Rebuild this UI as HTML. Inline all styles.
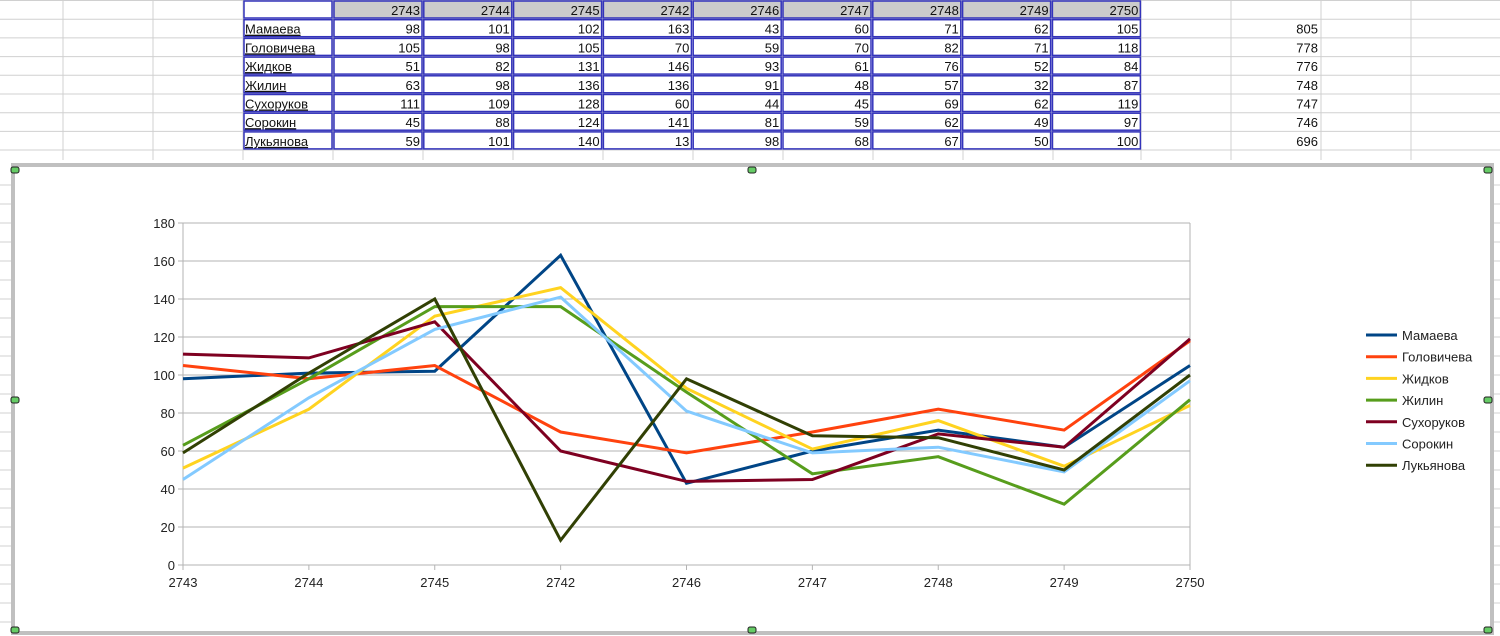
<!DOCTYPE html>
<html><head><meta charset="utf-8"><style>
html,body{margin:0;padding:0;background:#fff;width:1500px;height:636px;overflow:hidden}
svg text{font-family:"Liberation Sans",Arial,sans-serif}
</style></head><body>
<svg id="s" width="1500" height="636" xmlns="http://www.w3.org/2000/svg">
<g id="grid"></g>
<g id="table"></g>
<rect x="13" y="165" width="1479" height="468" fill="#fff" stroke="#c0c0c0" stroke-width="4"/>
<g id="chart"></g>
</svg>
<script>
const categories=["2743","2744","2745","2742","2746","2747","2748","2749","2750"];
const names=["Мамаева","Головичева","Жидков","Жилин","Сухоруков","Сорокин","Лукьянова"];
const sMamaeva=[98,101,102,163,43,60,71,62,105];
const sGolovicheva=[105,98,105,70,59,70,82,71,118];
const sZhidkov=[51,82,131,146,93,61,76,52,84];
const sZhilin=[63,98,136,136,91,48,57,32,87];
const sSukhorukov=[111,109,128,60,44,45,69,62,119];
const sSorokin=[45,88,124,141,81,59,62,49,97];
const sLukyanova=[59,101,140,13,98,68,67,50,100];
const totals=[805,778,776,748,747,746,696];
const yTicks=[0,20,40,60,80,100,120,140,160,180];
const series=[sMamaeva,sGolovicheva,sZhidkov,sZhilin,sSukhorukov,sSorokin,sLukyanova];
const colors=["#004586","#ff420e","#ffd320","#579d1c","#7e0021","#83caff","#314004"];
const NS="http://www.w3.org/2000/svg";
function mk(p,t,a,txt){const e=document.createElementNS(NS,t);for(const k in a)e.setAttribute(k,a[k]);if(txt!==undefined)e.textContent=txt;p.appendChild(e);return e;}
// sheet grid
const grid=document.getElementById('grid');
const colX=[63,153,243,333,423,513,603,693,783,873,963,1053,1141,1231,1321,1411];
for(const x of colX){const l=mk(grid,'line',{x1:x,y1:0,x2:x,y2:160,stroke:'#d0d0d0'});

}
for(let r=0;r<=8;r++){const y=r===8?150:18.7*r+0.5;const l=mk(grid,'line',{x1:0,y1:y,x2:1500,y2:y,stroke:'#d0d0d0'});

}
for(let y=185;y<636;y+=19){mk(grid,'line',{x1:0,y1:y,x2:13,y2:y,stroke:'#d0d0d0'});mk(grid,'line',{x1:1492,y1:y,x2:1500,y2:y,stroke:'#d0d0d0'});}
// table
const tb=document.getElementById('table');
mk(tb,'rect',{x:333,y:0,width:808,height:18,fill:'#cccccc'});
const rowY=r=>18.7*r+1;
function cell(x,y,w){const c=mk(tb,'rect',{x:x+1,y:y,width:w-2,height:17,fill:'none',stroke:'#3333bb','stroke-width':1.5});return c;}
cell(243,rowY(0),90);
categories.forEach((c,i)=>{const x=333+i*89.8;cell(x,rowY(0),90);
const t=mk(tb,'text',{x:x+87,y:rowY(0)+14,'text-anchor':'end','font-size':13,fill:'#111'},c);

});
names.forEach((n,r)=>{const y=rowY(r+1);cell(243,y,90);
const t=mk(tb,'text',{x:245,y:y+14,'font-size':13,fill:'#111','text-decoration':'underline'},n);


series[r].forEach((v,i)=>{const x=333+i*89.8;cell(x,y,90);mk(tb,'text',{x:x+87,y:y+14,'text-anchor':'end','font-size':13,fill:'#111'},v);});
const tt=mk(tb,'text',{x:1318,y:y+14,'text-anchor':'end','font-size':13,fill:'#111'},totals[r]);

});
// chart
const ch=document.getElementById('chart');
const X0=183,X1=1190,Y0=565,Y1=223;
const xs=i=>X0+i*(X1-X0)/(categories.length-1);
const ys=v=>Y0-(v/180)*(Y0-Y1);
yTicks.forEach(v=>{const y=ys(v);
const g=mk(ch,'line',{x1:X0-5,y1:y,x2:X1,y2:y,stroke:'#b3b3b3'});


const t=mk(ch,'text',{x:X0-8,y:y+5,'text-anchor':'end','font-size':13,fill:'#222'},v);

});
mk(ch,'line',{x1:X0,y1:Y1,x2:X0,y2:Y0,stroke:'#b3b3b3'});
mk(ch,'line',{x1:X1,y1:Y1,x2:X1,y2:Y0,stroke:'#b3b3b3'});
categories.forEach((c,i)=>{const x=xs(i);mk(ch,'line',{x1:x,y1:Y0,x2:x,y2:Y0+5,stroke:'#b3b3b3'});
const t=mk(ch,'text',{x:x,y:Y0+22,'text-anchor':'middle','font-size':13,fill:'#222'},c);

});
series.forEach((s,k)=>{const pts=s.map((v,i)=>xs(i)+','+ys(v)).join(' ');
const p=mk(ch,'polyline',{points:pts,fill:'none',stroke:colors[k],'stroke-width':3,'stroke-linejoin':'miter'});

});
names.forEach((n,k)=>{const y=335+k*21.7;
const g=mk(ch,'g',{});


mk(g,'line',{x1:1366,y1:y,x2:1397,y2:y,stroke:colors[k],'stroke-width':3});
mk(g,'text',{x:1402,y:y+5,'font-size':13,fill:'#222'},n);});
// handles
[[15,170],[752,170],[1488,170],[15,400],[1488,400],[15,630],[752,630],[1488,630]].forEach(([x,y])=>{const h=mk(ch,'rect',{x:x-4,y:y-3,width:8,height:6,rx:2,fill:'#6c6',stroke:'#222'});

});
</script>
</body></html>
